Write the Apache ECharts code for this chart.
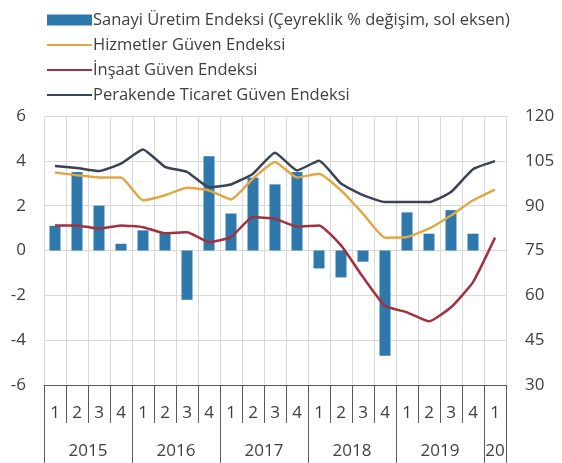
<!DOCTYPE html>
<html>
<head>
<meta charset="utf-8">
<script src="https://cdn.jsdelivr.net/npm/echarts@6/dist/echarts.min.js"></script>
<style>
  html, body { margin: 0; padding: 0; background: #fff; }
  #chart { width: 562px; height: 463px; }
</style>
</head>
<body>
<div id="chart"></div>
<script>
// quarters 2015Q1 .. 2020Q1
const quarters = ["1","2","3","4","1","2","3","4","1","2","3","4","1","2","3","4","1","2","3","4","1"]
const years = ["2015", "2016", "2017", "2018", "2019", "20"]
const yearLengths = [4, 4, 4, 4, 4, 1]

// left axis, % change
const sanayi = [1.1, 3.5, 2.0, 0.3, 0.9, 0.8, -2.2, 4.2, 1.65, 3.25, 2.95, 3.5, -0.8, -1.2, -0.5, -4.7, 1.7, 0.75, 1.8, 0.75, null]
// right axis, index
const hizmetler = [101.1, 100.2, 99.4, 99.4, 91.8, 93.5, 96.0, 95.1, 92.1, 99.1, 104.6, 99.4, 100.7, 95.1, 87.3, 79.3, 79.5, 82.3, 86.7, 91.8, 95.4]
const insaat = [83.4, 83.4, 82.3, 83.4, 82.8, 80.8, 81.1, 77.8, 79.5, 86.2, 85.6, 83.0, 83.4, 76.7, 66.1, 56.5, 54.3, 51.3, 56.0, 64.4, 79.3]
const perakende = [103.3, 102.6, 101.6, 104.1, 108.8, 103.0, 101.3, 96.2, 97.1, 100.7, 107.7, 101.8, 105.0, 97.4, 93.5, 91.2, 91.2, 91.2, 94.6, 102.2, 104.9]

const seriesNames = [
  "Sanayi Üretim Endeksi (Çeyreklik % değişim, sol eksen)",
  "Hizmetler Güven Endeksi",
  "İnşaat Güven Endeksi",
  "Perakende Ticaret Güven Endeksi"
]

// year axis uses half-quarter steps so labels can sit in the middle of each year
const yearAxisData = []
const yearTickAt = [0]
const yearLabelAt = {}
let pos = 0
years.forEach((y, i) => {
  yearLabelAt[pos + yearLengths[i]] = y
  pos += yearLengths[i] * 2
  yearTickAt.push(pos)
})
for (let i = 0; i <= quarters.length * 2; i++) {
  yearAxisData.push(yearLabelAt[i] || "")
}

const font = "'Open Sans', 'Noto Sans', sans-serif"
const textColor = "#404040"
const frameColor = "#595959"
const gridColor = "#d9d9d9"
const lineIcon = "path://M0,0 L45,0 L45,2.2 L0,2.2 Z"

const chart = echarts.init(document.getElementById("chart"))
chart.setOption({
  animation: false,
  textStyle: { fontFamily: font },
  legend: {
    orient: "vertical",
    left: 42,
    top: 4,
    itemWidth: 45,
    itemHeight: 11,
    itemGap: 3,
    textStyle: { fontSize: 16.5, lineHeight: 22, color: textColor, fontFamily: font, padding: [0, 0, 0, -4] },
    data: [
      { name: seriesNames[0], icon: "rect" },
      { name: seriesNames[1], icon: lineIcon },
      { name: seriesNames[2], icon: lineIcon },
      { name: seriesNames[3], icon: lineIcon }
    ]
  },
  grid: { left: 44, right: 56, top: 116, bottom: 78 },
  xAxis: [
    {
      type: "category",
      data: quarters,
      position: "bottom",
      axisLine: { show: true, onZero: false, lineStyle: { color: frameColor, width: 1 } },
      axisTick: { show: true, interval: 0, length: 38, lineStyle: { color: frameColor } },
      axisLabel: { interval: 0, margin: 20, fontSize: 17, color: textColor, fontFamily: font },
      splitLine: { show: true, interval: 0, lineStyle: { color: gridColor } }
    },
    {
      type: "category",
      data: yearAxisData,
      boundaryGap: false,
      position: "bottom",
      axisLine: { show: false, onZero: false },
      axisTick: {
        show: true,
        length: 80,
        interval: (i) => yearTickAt.indexOf(i) >= 0,
        lineStyle: { color: frameColor }
      },
      axisLabel: { interval: 0, margin: 58, fontSize: 17, color: textColor, fontFamily: font },
      splitLine: { show: false }
    }
  ],
  yAxis: [
    {
      type: "value",
      min: -6,
      max: 6,
      interval: 2,
      axisLine: { show: false },
      axisTick: { show: false },
      axisLabel: { margin: 18, fontSize: 17, color: textColor, fontFamily: font },
      splitLine: { show: true, lineStyle: { color: gridColor } }
    },
    {
      type: "value",
      min: 30,
      max: 120,
      interval: 15,
      position: "right",
      axisLine: { show: false },
      axisTick: { show: false },
      axisLabel: { margin: 19, fontSize: 17, color: textColor, fontFamily: font },
      splitLine: { show: false }
    }
  ],
  series: [
    {
      name: seriesNames[0],
      type: "bar",
      xAxisIndex: 0,
      yAxisIndex: 0,
      data: sanayi,
      barWidth: 11,
      itemStyle: { color: "#2e78ab" }
    },
    {
      name: seriesNames[1],
      type: "line",
      xAxisIndex: 0,
      yAxisIndex: 1,
      data: hizmetler,
      symbol: "none",
      smooth: 0.15,
      itemStyle: { color: "#e2a745" },
      lineStyle: { color: "#e2a745", width: 2.5 }
    },
    {
      name: seriesNames[2],
      type: "line",
      xAxisIndex: 0,
      yAxisIndex: 1,
      data: insaat,
      symbol: "none",
      smooth: 0.15,
      itemStyle: { color: "#a3303f" },
      lineStyle: { color: "#a3303f", width: 2.5 }
    },
    {
      name: seriesNames[3],
      type: "line",
      xAxisIndex: 0,
      yAxisIndex: 1,
      data: perakende,
      symbol: "none",
      smooth: 0.15,
      itemStyle: { color: "#3b4256" },
      lineStyle: { color: "#3b4256", width: 2.5 }
    }
  ]
})
</script>
</body>
</html>
